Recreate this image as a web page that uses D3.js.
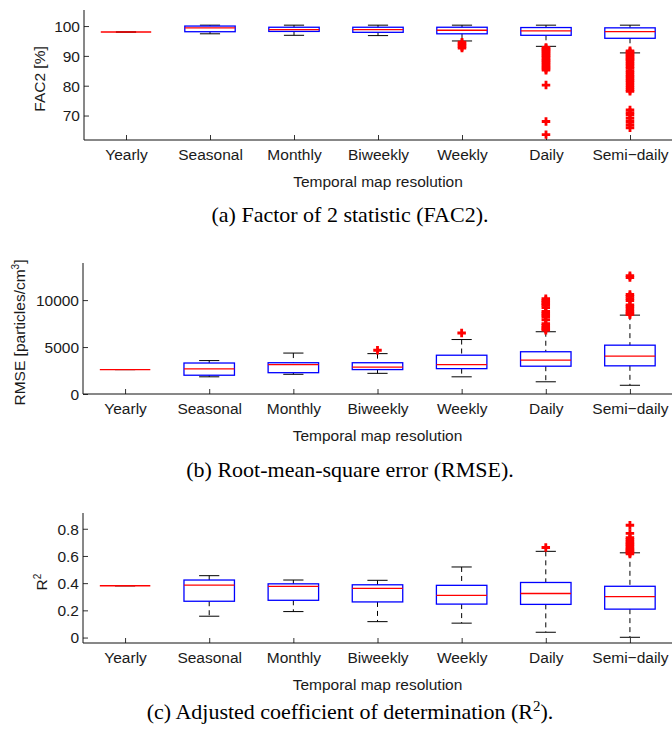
<!DOCTYPE html>
<html>
<head>
<meta charset="utf-8">
<script src="https://cdn.jsdelivr.net/npm/d3@7"></script>
<style>
  body { margin: 0; background: white; }
  text { font-family: "Liberation Sans", Arial, sans-serif; fill: #1a1a1a; }
  .caption { font-family: "Liberation Serif", "Times New Roman", serif; fill: #000; }
</style>
</head>
<body>
<div id="chart"></div>
<script>
// categories (x axis)
const categories = ['Yearly', 'Seasonal', 'Monthly', 'Biweekly', 'Weekly', 'Daily', 'Semi\u2212daily'];

// (a) FAC2 [%]
const fac2Lo  = [98.0, 97.4, 96.9, 96.8, 95.0, 93.2, 91.0];
const fac2Q1  = [98.0, 98.1, 98.2, 97.9, 97.4, 96.9, 95.9];
const fac2Med = [98.0, 99.4, 98.8, 98.8, 98.6, 98.4, 98.1];
const fac2Q3  = [98.0, 100.0, 99.6, 99.6, 99.6, 99.5, 99.4];
const fac2Hi  = [98.0, 100.3, 100.3, 100.3, 100.3, 100.3, 100.3];
const fac2Out = [
  [], [], [], [],
  [94.6, 94.1, 93.6, 93.1, 92.6],
  [92.8, 92.5, 92.1, 91.8, 91.4, 91.0, 90.7, 90.2, 89.9, 89.5, 89.0, 88.6, 88.3, 87.8, 87.4, 87.0, 86.5, 86.1, 85.6, 85.2, 80.2, 68.0, 63.6],
  [91.7, 91.3, 90.9, 90.4, 90.0, 89.6, 89.1, 88.7, 88.2, 87.5, 87.0, 86.3, 85.8, 85.0, 84.4, 83.6, 83.0, 82.3, 81.7, 81.0, 80.2, 79.4, 78.6, 78.1,
   71.9, 71.0, 70.2, 69.1, 68.0, 66.9, 65.9]
];

// (b) RMSE [particles/cm3]
const rmseLo  = [2600, 1830, 2100, 2200, 1830, 1300, 930];
const rmseQ1  = [2600, 2000, 2270, 2600, 2700, 2960, 3000];
const rmseMed = [2600, 2670, 3130, 2860, 3130, 3600, 4030];
const rmseQ3  = [2600, 3300, 3330, 3330, 4130, 4500, 5200];
const rmseHi  = [2600, 3560, 4360, 4300, 5800, 6630, 8400];
const rmseOut = [
  [], [], [],
  [4660],
  [6500],
  [10150, 9950, 9800, 9600, 9450, 9200, 8800, 8600, 8400, 8200, 7900, 7500, 7300, 7100, 6950, 6800],
  [12600, 12400, 10600, 10400, 10150, 9950, 9500, 9300, 9050, 8800, 8600, 8450]
];

// (c) adjusted R2
const r2Lo  = [0.381, 0.157, 0.191, 0.117, 0.106, 0.039, 0.002];
const r2Q1  = [0.381, 0.267, 0.274, 0.262, 0.246, 0.244, 0.209];
const r2Med = [0.381, 0.386, 0.377, 0.361, 0.310, 0.324, 0.301];
const r2Q3  = [0.381, 0.423, 0.395, 0.388, 0.384, 0.405, 0.377];
const r2Hi  = [0.381, 0.455, 0.423, 0.421, 0.519, 0.634, 0.623];
const r2Out = [
  [], [], [], [], [],
  [0.662],
  [0.826, 0.766, 0.735, 0.722, 0.708, 0.695, 0.684, 0.672, 0.660, 0.650, 0.641, 0.632, 0.624, 0.615]
];

let width = 672, height = 729;
let fontSize = '15.5px';

let svg = d3.select('#chart')
  .append('svg')
    .attr('width', width)
    .attr('height', height)
    .style('background', 'white');

// one boxplot panel
function panel(opts) {
  let g = svg.append('g');

  let xScale = d3.scaleLinear()
    .domain([0.5, 7.5])
    .range([opts.left, 672]);

  let yScale = d3.scaleLinear()
    .domain(opts.domain)
    .range([opts.bottom, opts.top]);

  let spacing = xScale(2) - xScale(1);
  let boxW = spacing * 0.6;
  let capW = spacing * 0.24;

  let rows = categories.map((c, i) => ({
    pos: i + 1, lo: opts.lo[i], q1: opts.q1[i], med: opts.med[i],
    q3: opts.q3[i], hi: opts.hi[i], out: opts.out[i]
  }));

  // axes (inward ticks, MATLAB style)
  let yAxis = d3.axisRight(yScale)
    .tickValues(opts.ticks)
    .tickSize(5)
    .tickFormat(opts.fmt);
  let ya = g.append('g')
    .attr('transform', 'translate(' + opts.left + ',0)')
    .call(yAxis);
  ya.select('.domain').remove();
  ya.selectAll('line').attr('stroke', '#333');
  ya.selectAll('text')
    .attr('x', -4)
    .attr('dy', '0.35em')
    .style('text-anchor', 'end')
    .style('font-size', fontSize);

  let xAxis = d3.axisTop(xScale)
    .tickValues(d3.range(1, 8))
    .tickSize(5)
    .tickFormat(d => categories[d - 1]);
  let xa = g.append('g')
    .attr('transform', 'translate(0,' + opts.bottom + ')')
    .call(xAxis);
  xa.select('.domain').remove();
  xa.selectAll('line').attr('stroke', '#333');
  xa.selectAll('text')
    .attr('y', 20)
    .attr('dy', 0)
    .style('font-size', fontSize);

  // axis lines (left + bottom only)
  g.append('line')
    .attr('x1', opts.left).attr('x2', opts.left)
    .attr('y1', opts.top - 8).attr('y2', opts.bottom)
    .attr('stroke', '#111').attr('stroke-width', 1);
  g.append('line')
    .attr('x1', opts.left).attr('x2', 672)
    .attr('y1', opts.bottom).attr('y2', opts.bottom)
    .attr('stroke', '#111').attr('stroke-width', 1);

  let boxes = g.append('g')
    .selectAll('g')
    .data(rows)
    .enter()
    .append('g');

  // whiskers (dashed)
  boxes.append('line')
    .attr('x1', d => xScale(d.pos)).attr('x2', d => xScale(d.pos))
    .attr('y1', d => yScale(d.hi)).attr('y2', d => yScale(d.q3))
    .attr('stroke', 'black').attr('stroke-dasharray', '5,4');
  boxes.append('line')
    .attr('x1', d => xScale(d.pos)).attr('x2', d => xScale(d.pos))
    .attr('y1', d => yScale(d.q1)).attr('y2', d => yScale(d.lo))
    .attr('stroke', 'black').attr('stroke-dasharray', '5,4');

  // caps
  boxes.append('line')
    .attr('x1', d => xScale(d.pos) - capW / 2).attr('x2', d => xScale(d.pos) + capW / 2)
    .attr('y1', d => yScale(d.hi)).attr('y2', d => yScale(d.hi))
    .attr('stroke', 'black');
  boxes.append('line')
    .attr('x1', d => xScale(d.pos) - capW / 2).attr('x2', d => xScale(d.pos) + capW / 2)
    .attr('y1', d => yScale(d.lo)).attr('y2', d => yScale(d.lo))
    .attr('stroke', 'black');

  // box
  boxes.append('rect')
    .attr('x', d => xScale(d.pos) - boxW / 2)
    .attr('y', d => yScale(d.q3))
    .attr('width', boxW)
    .attr('height', d => yScale(d.q1) - yScale(d.q3))
    .attr('fill', 'none')
    .attr('stroke', '#0000ff')
    .attr('stroke-width', 1.3);

  // median
  boxes.append('line')
    .attr('x1', d => xScale(d.pos) - boxW / 2).attr('x2', d => xScale(d.pos) + boxW / 2)
    .attr('y1', d => yScale(d.med)).attr('y2', d => yScale(d.med))
    .attr('stroke', '#ff0000').attr('stroke-width', 1.3);

  // outliers
  let cross = d3.symbol().type(d3.symbolCross).size(40);
  boxes.selectAll('path.out')
    .data(d => d.out.map(v => ({ pos: d.pos, v: v })))
    .enter()
    .append('path')
    .attr('class', 'out')
    .attr('d', cross)
    .attr('transform', d => 'translate(' + xScale(d.pos) + ',' + yScale(d.v) + ')')
    .attr('fill', '#ff0000');

  // x label
  g.append('text')
    .attr('x', (opts.left + 672) / 2)
    .attr('y', opts.bottom + 47)
    .style('text-anchor', 'middle')
    .style('font-size', fontSize)
    .text('Temporal map resolution');

  // y label
  let yl = g.append('text')
    .attr('transform', 'translate(' + opts.ylabelX + ',' + ((opts.top + opts.bottom) / 2) + ') rotate(-90)')
    .style('text-anchor', 'middle')
    .style('font-size', fontSize);
  yl.append('tspan').text(opts.ylabel);
  if (opts.ysup) {
    yl.append('tspan').attr('dy', -6).style('font-size', '10px').text(opts.ysup);
    if (opts.ytail) yl.append('tspan').attr('dy', 6).text(opts.ytail);
  }

  // caption
  let cap = svg.append('text')
    .attr('class', 'caption')
    .attr('x', 350)
    .attr('y', opts.captionY)
    .style('text-anchor', 'middle')
    .style('font-size', '22px');
  cap.append('tspan').text(opts.caption);
  if (opts.capSup) {
    cap.append('tspan').attr('dy', -8).style('font-size', '15px').text(opts.capSup);
    cap.append('tspan').attr('dy', 8).text(opts.capTail);
  }
}

panel({
  left: 84, top: 18, bottom: 140, domain: [61.8, 102.7],
  ticks: [70, 80, 90, 100], fmt: d3.format('d'),
  lo: fac2Lo, q1: fac2Q1, med: fac2Med, q3: fac2Q3, hi: fac2Hi, out: fac2Out,
  ylabel: 'FAC2 [%]', ylabelX: 45,
  caption: '(a) Factor of 2 statistic (FAC2).', captionY: 222
});

panel({
  left: 83, top: 271, bottom: 394, domain: [0, 13100],
  ticks: [0, 5000, 10000], fmt: d3.format('d'),
  lo: rmseLo, q1: rmseQ1, med: rmseMed, q3: rmseQ3, hi: rmseHi, out: rmseOut,
  ylabel: 'RMSE [particles/cm', ysup: '3', ytail: ']', ylabelX: 25,
  caption: '(b) Root-mean-square error (RMSE).', captionY: 477
});

panel({
  left: 83, top: 521, bottom: 643, domain: [-0.04, 0.857],
  ticks: [0, 0.2, 0.4, 0.6, 0.8], fmt: d => d === 0 ? '0' : d3.format('.1f')(d),
  lo: r2Lo, q1: r2Q1, med: r2Med, q3: r2Q3, hi: r2Hi, out: r2Out,
  ylabel: 'R', ysup: '2', ylabelX: 47,
  caption: '(c) Adjusted coefficient of determination (R', capSup: '2', capTail: ').', captionY: 719
});
</script>
</body>
</html>
